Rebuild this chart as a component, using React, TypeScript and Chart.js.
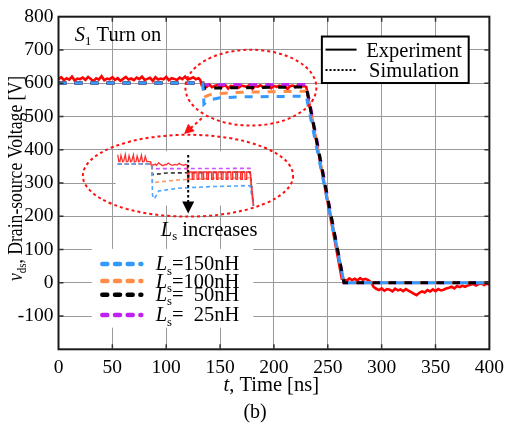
import React, { useEffect, useRef } from "react";
import { Chart, registerables } from "chart.js";

Chart.register(...registerables);

const FONT = '"Liberation Serif", "Times New Roman", Times, serif';

// ---------- tick values ----------
const xTickValues = [0, 50, 100, 150, 200, 250, 300, 350, 400];
const yTickValues = [-200, -100, 0, 100, 200, 300, 400, 500, 600, 700, 800];
const yTickLabels = ["", "-100", "0", "100", "200", "300", "400", "500", "600", "700", "800"];

// ---------- experiment (red, measured) ----------
const expT = [
  0, 2.5, 5, 7.5, 10, 12.5, 15, 17.5, 20, 22.5, 25, 27.5, 30, 32.5, 35, 37.5, 40, 42.5, 45, 47.5,
  50, 52.5, 55, 57.5, 60, 62.5, 65, 67.5, 70, 72.5, 75, 77.5, 80, 82.5, 85, 87.5, 90, 92.5, 95, 97.5,
  100, 102.5, 105, 107.5, 110, 112.5, 115, 117.5, 120, 122.5, 125, 127.5, 130,
  131.5, 133,
  135, 137.5, 140, 142.5, 145, 147.5, 150, 152.5, 155, 157.5, 160, 162.5, 165, 167.5, 170, 172.5,
  175, 177.5, 180, 182.5, 185, 187.5, 190, 192.5, 195, 197.5, 200, 202.5, 205, 207.5, 210, 212.5,
  215, 217.5, 220, 222.5, 225, 227.5,
  230, 263,
  265, 267.5, 270, 272.5, 275, 277.5, 280, 282.5, 285, 287.5,
  290, 292.5,
  295, 297.5, 300, 302.5, 305, 307.5, 310, 312.5, 315, 317.5, 320, 322.5, 325,
  327.5, 330, 332.5, 335, 337.5, 340,
  342.5, 345, 347.5, 350, 352.5, 355, 357.5, 360,
  362.5, 365, 367.5, 370, 372.5, 375, 377.5, 380,
  382.5, 385, 387.5, 390, 392.5, 395, 397.5, 400,
];
const expV = [
  612, 618, 609, 615, 611, 620, 608, 614, 612, 617, 610, 619, 613, 606, 615, 611, 621, 609, 614, 612,
  618, 610, 615, 607, 613, 619, 611, 614, 609, 617, 612, 620, 610, 613, 616, 607, 618, 611, 614, 612,
  619, 609, 615, 613, 610, 617, 612, 620, 611, 614, 618, 612, 615,
  610, 594,
  593, 589, 596, 588, 592, 595, 589, 591, 594, 584, 592, 590, 596, 587, 593, 591, 589, 595, 583, 592,
  590, 594, 588, 591, 596, 585, 592, 589, 593, 590, 594, 582, 591, 593, 588, 595, 590, 592,
  589, 12,
  10, 6, 13, 8, 12, 7, 14, 9, 12, 8,
  2, -12,
  -18, -22, -17, -24, -19, -21, -26, -18, -23, -20, -25, -19, -24,
  -28, -33, -37, -30, -26, -29,
  -22, -26, -20, -25, -19, -23, -21, -17,
  -15, -12, -17, -10, -13, -9, -12, -8,
  -6, -3, -8, -4, -2, -7, -3, -5,
];

// ---------- simulations (dashed) ----------
const sim150T = [0, 134, 135, 137, 141, 150, 170, 230, 265, 400];
const sim150V = [601, 601, 537, 543, 550, 556, 559, 561, 0, 0];
const sim100T = [0, 134, 135, 136.5, 140, 150, 170, 230, 265, 400];
const sim100V = [601, 601, 556, 560, 565, 569, 573, 576, 0, 0];
const sim50T = [0, 134, 135, 230, 265, 400];
const sim50V = [601, 601, 585, 589, 0, 0];
const sim25T = [0, 134, 135, 230, 265, 400];
const sim25V = [601, 601, 595, 596, 0, 0];

// ---------- zoomed inset (drawn in the plot's own units) ----------
const insetExpT = [
  55, 56, 57, 58, 59.5, 60.5, 62, 63, 64.5, 65.5, 67, 68, 69.5, 70.5, 72, 73, 74.5, 75.5, 77, 78,
  79.5, 80.5, 82, 83, 85.5,
  85.8, 88, 90, 91, 93, 95, 97, 99, 100, 102, 104, 106, 108, 110, 112, 114, 116, 118, 119.5,
  119.8, 120, 121, 121.2, 124, 124.2, 125.5, 125.7, 128.5, 128.7, 130, 130.2, 133, 133.2, 134.5,
  134.7, 137.5, 137.7, 139, 139.2, 142, 142.2, 143.5, 143.7, 146.5, 146.7, 148, 148.2, 151, 151.2,
  152.5, 152.7, 155.5, 155.7, 157, 157.2, 160, 160.2, 161.5, 161.7, 164.5, 164.7, 166, 166.2, 169,
  169.2, 170.5, 170.7, 173, 173.2, 174.5, 174.7, 177.8, 181,
];
const insetExpV = [
  385, 365, 364, 383, 364, 366, 386, 364, 365, 382, 364, 366, 385, 363, 365, 381, 364, 366, 384, 364,
  365, 380, 364, 365, 364,
  355, 354, 357, 353, 361, 355, 352, 356, 354, 360, 355, 353, 356, 354, 359, 355, 353, 356, 354,
  355, 311, 311, 333, 333, 311, 311, 333, 333, 311, 311, 333, 333, 311, 311,
  333, 333, 311, 311, 333, 333, 311, 311, 333, 333, 311, 311, 333, 333, 311,
  311, 333, 333, 311, 311, 333, 333, 311, 311, 333, 333, 311, 311, 333, 333,
  311, 311, 333, 333, 311, 311, 333, 333, 232,
];
const inset150T = [55, 86.5, 87.3, 89, 93, 110, 140, 177.8, 181];
const inset150V = [357, 357, 262, 252, 276, 284, 289, 292, 232];
const inset100T = [55, 86.5, 87.3, 90, 110, 140, 177.8, 181];
const inset100V = [357, 357, 299, 302, 309, 314, 316, 232];
const inset50T = [55, 86.5, 87.3, 100, 177.8, 181];
const inset50V = [357, 357, 325, 330, 333, 232];
const inset25T = [55, 86.5, 87.3, 177.8, 181];
const inset25V = [357, 357, 343, 344, 232];

// ---------- legend text ----------
const seriesLabels = ["150nH", "100nH", "  50nH", "  25nH"];
const seriesColors = ["#3399ff", "#ff8c47", "#000000", "#c020f0"];
const insetColors = ["#4da6ff", "#ff9a66", "#333333", "#cc55ff"];

// annotation anchors in data units (t [ns], V)
const A = {
  insetPatch: { t0: 53, t1: 183.7, v0: 232, v1: 395 },
  upperEllipse: { t: 178.6, v: 586.6, rt: 60.8, rv: 114 },
  lowerEllipse: { t: 120.2, v: 322, rt: 97.6, rv: 123 },
  redArrow: { t0: 133, v0: 495, t1: 116.5, v1: 447 },
  blackArrow: { t: 120.4, v0: 384, v1: 208 },
  lsText: { t: 95, v: 140 },
  s1Text: { t: 15.2, v: 726.6 },
  topLegend: { t0: 244.5, t1: 380.8, v0: 600.6, v1: 740.4, lt0: 247.9, lt1: 276.7, rowV: [701, 639.6], textT: 330.1 },
  botLegend: { t0: 30.9, t1: 180.9, v0: -135, v1: 102, lt0: 38.8, lt1: 76.9, rowV: [56.5, 5, -36, -96.7], textT: 90.2 },
  xTitle: { t: 197.5, v: -325 },
  bText: { t: 182.5, v: -407 },
  yTitle: { t: -33.6, v: 313.5 },
};

type Part = { s: string; i?: boolean; sub?: boolean };

function drawRich(ctx: CanvasRenderingContext2D, parts: Part[], x: number, y: number, size: number, align: "left" | "center") {
  const fontOf = (p: Part) => `${p.i ? "italic " : ""}${p.sub ? size * 0.62 : size}px ${FONT}`;
  let w = 0;
  for (const p of parts) {
    ctx.font = fontOf(p);
    w += ctx.measureText(p.s).width;
  }
  let cx = align === "center" ? x - w / 2 : x;
  ctx.textAlign = "left";
  ctx.textBaseline = "alphabetic";
  for (const p of parts) {
    ctx.font = fontOf(p);
    ctx.fillText(p.s, cx, y + (p.sub ? size * 0.2 : 0));
    cx += ctx.measureText(p.s).width;
  }
}

function ellipse(ctx: CanvasRenderingContext2D, cx: number, cy: number, rx: number, ry: number) {
  ctx.beginPath();
  ctx.ellipse(cx, cy, rx, ry, 0, 0, Math.PI * 2);
  ctx.stroke();
}

const zip = (t: number[], v: number[]) => t.slice(0, Math.min(t.length, v.length)).map((x, i) => ({ x, y: v[i] }));

const annotPlugin = {
  id: "annot",
  beforeDatasetsDraw(chart: any) {
    const { ctx, scales } = chart;
    const X = (t: number) => scales.x.getPixelForValue(t);
    const Y = (v: number) => scales.y.getPixelForValue(v);
    ctx.save();
    ctx.fillStyle = "#ffffff";
    const p = A.insetPatch;
    ctx.fillRect(X(p.t0), Y(p.v1), X(p.t1) - X(p.t0), Y(p.v0) - Y(p.v1));
    const b = A.botLegend;
    ctx.fillRect(X(b.t0), Y(b.v1), X(b.t1) - X(b.t0), Y(b.v0) - Y(b.v1));
    ctx.restore();
  },
  afterDatasetsDraw(chart: any) {
    const { ctx, scales, chartArea } = chart;
    const X = (t: number) => scales.x.getPixelForValue(t);
    const Y = (v: number) => scales.y.getPixelForValue(v);
    ctx.save();

    // frame
    ctx.strokeStyle = "#1a1a1a";
    ctx.lineWidth = 2;
    ctx.setLineDash([]);
    ctx.strokeRect(chartArea.left, chartArea.top, chartArea.right - chartArea.left, chartArea.bottom - chartArea.top);
    // inner ticks
    ctx.lineWidth = 1.5;
    ctx.strokeStyle = "#333";
    ctx.beginPath();
    for (const t of xTickValues.slice(1, -1)) {
      const px = X(t);
      ctx.moveTo(px, chartArea.bottom);
      ctx.lineTo(px, chartArea.bottom - 5);
      ctx.moveTo(px, chartArea.top);
      ctx.lineTo(px, chartArea.top + 5);
    }
    for (const v of yTickValues.slice(1, -1)) {
      const py = Y(v);
      ctx.moveTo(chartArea.left, py);
      ctx.lineTo(chartArea.left + 5, py);
      ctx.moveTo(chartArea.right, py);
      ctx.lineTo(chartArea.right - 5, py);
    }
    ctx.stroke();

    // red dotted ellipses
    ctx.strokeStyle = "#ff1010";
    ctx.lineWidth = 2;
    ctx.setLineDash([3, 3]);
    const ue = A.upperEllipse;
    ellipse(ctx, X(ue.t), Y(ue.v), X(ue.t + ue.rt) - X(ue.t), Y(ue.v) - Y(ue.v + ue.rv));
    const le = A.lowerEllipse;
    ellipse(ctx, X(le.t), Y(le.v), X(le.t + le.rt) - X(le.t), Y(le.v) - Y(le.v + le.rv));

    // red arrow
    const ra = A.redArrow;
    const ax0 = X(ra.t0), ay0 = Y(ra.v0), ax1 = X(ra.t1), ay1 = Y(ra.v1);
    const ang = Math.atan2(ay1 - ay0, ax1 - ax0);
    ctx.beginPath();
    ctx.moveTo(ax0, ay0);
    ctx.lineTo(ax1 - 6 * Math.cos(ang), ay1 - 6 * Math.sin(ang));
    ctx.stroke();
    ctx.setLineDash([]);
    ctx.fillStyle = "#ff1010";
    ctx.beginPath();
    ctx.moveTo(ax1, ay1);
    ctx.lineTo(ax1 - 10 * Math.cos(ang) + 5 * Math.sin(ang), ay1 - 10 * Math.sin(ang) - 5 * Math.cos(ang));
    ctx.lineTo(ax1 - 10 * Math.cos(ang) - 5 * Math.sin(ang), ay1 - 10 * Math.sin(ang) + 5 * Math.cos(ang));
    ctx.closePath();
    ctx.fill();

    // black arrow
    const ba = A.blackArrow;
    const bx = X(ba.t), by0 = Y(ba.v0), by1 = Y(ba.v1);
    ctx.strokeStyle = "#000";
    ctx.lineWidth = 2;
    ctx.setLineDash([2.5, 2.5]);
    ctx.beginPath();
    ctx.moveTo(bx, by0);
    ctx.lineTo(bx, by1 - 10);
    ctx.stroke();
    ctx.setLineDash([]);
    ctx.fillStyle = "#000";
    ctx.beginPath();
    ctx.moveTo(bx, by1);
    ctx.lineTo(bx - 6, by1 - 12);
    ctx.lineTo(bx + 6, by1 - 12);
    ctx.closePath();
    ctx.fill();

    // texts
    ctx.fillStyle = "#000";
    drawRich(ctx, [{ s: "L", i: true }, { s: "s", sub: true }, { s: " increases" }], X(A.lsText.t), Y(A.lsText.v), 20.5, "left");
    drawRich(ctx, [{ s: "S", i: true }, { s: "1", sub: true }, { s: " Turn on" }], X(A.s1Text.t), Y(A.s1Text.v), 20.5, "left");

    // top legend
    const tl = A.topLegend;
    ctx.fillStyle = "#fff";
    ctx.fillRect(X(tl.t0), Y(tl.v1), X(tl.t1) - X(tl.t0), Y(tl.v0) - Y(tl.v1));
    ctx.strokeStyle = "#000";
    ctx.lineWidth = 2;
    ctx.strokeRect(X(tl.t0), Y(tl.v1), X(tl.t1) - X(tl.t0), Y(tl.v0) - Y(tl.v1));
    ctx.beginPath();
    ctx.moveTo(X(tl.lt0), Y(tl.rowV[0]));
    ctx.lineTo(X(tl.lt1), Y(tl.rowV[0]));
    ctx.stroke();
    ctx.setLineDash([2, 2]);
    ctx.beginPath();
    ctx.moveTo(X(tl.lt0), Y(tl.rowV[1]));
    ctx.lineTo(X(tl.lt1), Y(tl.rowV[1]));
    ctx.stroke();
    ctx.setLineDash([]);
    ctx.fillStyle = "#000";
    drawRich(ctx, [{ s: "Experiment" }], X(tl.textT), Y(tl.rowV[0]) + 7, 20.5, "center");
    drawRich(ctx, [{ s: "Simulation" }], X(tl.textT), Y(tl.rowV[1]) + 7, 20.5, "center");

    // bottom legend
    const bl = A.botLegend;
    ctx.lineCap = "round";
    ctx.lineWidth = 4.5;
    ctx.setLineDash([5, 7.7]);
    bl.rowV.forEach((v, i) => {
      ctx.strokeStyle = seriesColors[i];
      ctx.beginPath();
      ctx.moveTo(X(bl.lt0) + 2, Y(v));
      ctx.lineTo(X(bl.lt1), Y(v));
      ctx.stroke();
      ctx.fillStyle = "#000";
      drawRich(ctx, [{ s: "L", i: true }, { s: "s", sub: true }, { s: "=" + seriesLabels[i] }], X(bl.textT), Y(v) + 6.5, 20.5, "left");
    });
    ctx.setLineDash([]);
    ctx.lineCap = "butt";
    ctx.restore();
  },
  afterDraw(chart: any) {
    const { ctx, scales } = chart;
    const X = (t: number) => scales.x.getPixelForValue(t);
    const Y = (v: number) => scales.y.getPixelForValue(v);
    ctx.save();
    ctx.fillStyle = "#000";
    drawRich(ctx, [{ s: "t", i: true }, { s: ", Time [ns]" }], X(A.xTitle.t), Y(A.xTitle.v), 20.5, "center");
    drawRich(ctx, [{ s: "(b)" }], X(A.bText.t), Y(A.bText.v), 20, "center");
    ctx.translate(X(A.yTitle.t), Y(A.yTitle.v));
    ctx.rotate(-Math.PI / 2);
    ctx.scale(0.86, 1);
    drawRich(ctx, [{ s: "v", i: true }, { s: "ds", sub: true }, { s: ", Drain-source Voltage [V]" }], 0, 0, 20.5, "center");
    ctx.restore();
  },
};

export default function App() {
  const ref = useRef<HTMLCanvasElement | null>(null);
  useEffect(() => {
    if (!ref.current) return;
    const simSets = [
      [sim150T, sim150V],
      [sim50T, sim50V],
      [sim100T, sim100V],
      [sim25T, sim25V],
    ];
    const simColorIdx = [0, 2, 1, 3];
    const insetSets = [
      [inset150T, inset150V],
      [inset100T, inset100V],
      [inset50T, inset50V],
      [inset25T, inset25V],
    ];
    const datasets: any[] = [];
    datasets.push({
      label: "inset exp",
      data: zip(insetExpT, insetExpV),
      borderColor: "#ff3030",
      borderWidth: 1.3,
      pointRadius: 0,
    });
    insetSets.forEach(([t, v], i) =>
      datasets.push({
        label: "inset " + seriesLabels[i],
        data: zip(t, v),
        borderColor: insetColors[i],
        borderWidth: 1.6,
        borderDash: [4, 3],
        pointRadius: 0,
      })
    );
    simSets.forEach(([t, v], k) =>
      datasets.push({
        label: "sim " + seriesLabels[simColorIdx[k]],
        data: zip(t, v),
        borderColor: seriesColors[simColorIdx[k]],
        borderWidth: 3,
        borderDash: [8, 8],
        pointRadius: 0,
      })
    );
    datasets.push({
      label: "Experiment",
      data: zip(expT, expV),
      borderColor: "#ff0000",
      borderWidth: 2.6,
      pointRadius: 0,
    });

    const chart = new Chart(ref.current, {
      type: "line",
      data: { datasets },
      plugins: [annotPlugin],
      options: {
        responsive: false,
        animation: false,
        devicePixelRatio: 1,
        layout: { padding: { top: 8, right: 18, left: 0, bottom: 0 } },
        plugins: { legend: { display: false }, tooltip: { enabled: false }, title: { display: false } },
        elements: { line: { tension: 0 } },
        scales: {
          x: {
            type: "linear",
            min: 0,
            max: 400,
            afterBuildTicks: (axis: any) => {
              axis.ticks = xTickValues.map((value) => ({ value }));
            },
            afterFit: (scale: any) => {
              scale.height = 76.7;
            },
            ticks: {
              autoSkip: false,
              maxRotation: 0,
              padding: 7,
              color: "#000",
              font: { family: FONT, size: 19.5 },
            },
            grid: { color: "#9a9a9a", lineWidth: 1, drawTicks: false },
            border: { display: false },
          },
          y: {
            type: "linear",
            min: -200,
            max: 800,
            afterBuildTicks: (axis: any) => {
              axis.ticks = yTickValues.map((value) => ({ value }));
            },
            afterFit: (scale: any) => {
              scale.width = 58.5;
            },
            ticks: {
              autoSkip: false,
              padding: 5,
              color: "#000",
              font: { family: FONT, size: 19.5 },
              callback: (value: any) => {
                const i = yTickValues.indexOf(Number(value));
                return i >= 0 ? yTickLabels[i] : "";
              },
            },
            grid: { color: "#9a9a9a", lineWidth: 1, drawTicks: false },
            border: { display: false },
          },
        },
      },
    });
    return () => chart.destroy();
  }, []);

  return (
    <div style={{ position: "fixed", left: 0, top: 0, width: 511, height: 426, background: "#fff" }}>
      <canvas ref={ref} width={511} height={426} style={{ display: "block", width: 511, height: 426 }} />
    </div>
  );
}
